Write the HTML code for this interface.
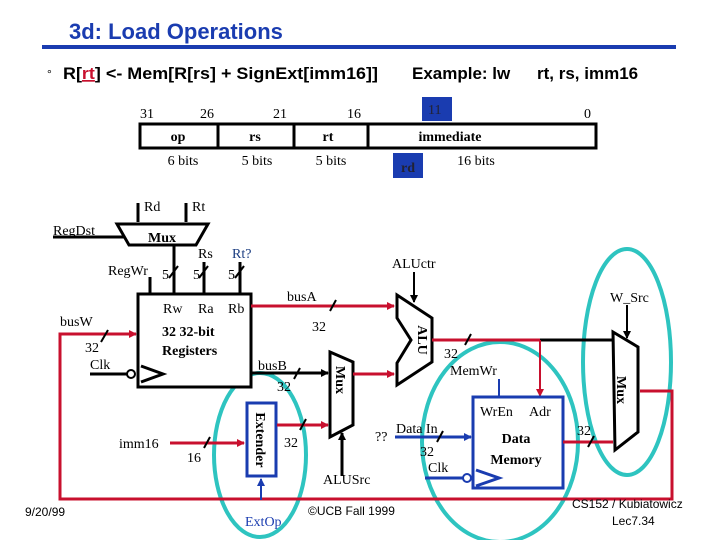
<!DOCTYPE html>
<html><head><meta charset="utf-8"><style>
html,body{margin:0;padding:0;background:#fff;}
svg{display:block;}
.s{font-family:"Liberation Serif",serif;font-size:14px;}
.a{font-family:"Liberation Sans",sans-serif;}
</style></head><body>
<svg width="720" height="540" viewBox="0 0 720 540" xmlns="http://www.w3.org/2000/svg">
<defs>
<marker id="ar" markerWidth="8" markerHeight="8" refX="7" refY="4" orient="auto" markerUnits="userSpaceOnUse"><path d="M0,0 L8,4 L0,8 z" fill="#c8102e"/></marker>
<marker id="ak" markerWidth="8" markerHeight="8" refX="7" refY="4" orient="auto" markerUnits="userSpaceOnUse"><path d="M0,0 L8,4 L0,8 z" fill="#000"/></marker>
<marker id="ab" markerWidth="8" markerHeight="8" refX="7" refY="4" orient="auto" markerUnits="userSpaceOnUse"><path d="M0,0 L8,4 L0,8 z" fill="#1a3cb0"/></marker>
</defs>
<text x="69" y="39" class="a" font-size="22" font-weight="bold" fill="#1a3cb0">3d: Load Operations</text>
<rect x="42" y="45" width="634" height="4" fill="#1a3cb0"/>
<text x="47" y="78" class="a" font-size="12">°</text>
<text x="63" y="79" class="a" font-size="17" font-weight="bold" textLength="315" lengthAdjust="spacingAndGlyphs">R[<tspan fill="#c8102e" text-decoration="underline">rt</tspan>] &lt;- Mem[R[rs] + SignExt[imm16]]</text>
<text x="412" y="79" class="a" font-size="17" font-weight="bold">Example: lw</text>
<text x="537" y="79" class="a" font-size="17" font-weight="bold">rt, rs, imm16</text>
<g class="s">
<text x="140" y="118">31</text><text x="200" y="118">26</text><text x="273" y="118">21</text><text x="347" y="118">16</text><text x="584" y="118">0</text>
<rect x="422" y="97" width="30" height="24" fill="#1a3cb0"/><text x="428" y="114" fill="#223">11</text>
<rect x="140" y="124" width="456" height="24" fill="none" stroke="#000" stroke-width="3"/>
<line x1="218" y1="124" x2="218" y2="148" stroke="#000" stroke-width="3"/>
<line x1="294" y1="124" x2="294" y2="148" stroke="#000" stroke-width="3"/>
<line x1="368" y1="124" x2="368" y2="148" stroke="#000" stroke-width="3"/>
<text x="178" y="141" text-anchor="middle" font-weight="bold">op</text>
<text x="255" y="141" text-anchor="middle" font-weight="bold">rs</text>
<text x="328" y="141" text-anchor="middle" font-weight="bold">rt</text>
<text x="450" y="141" text-anchor="middle" font-weight="bold">immediate</text>
<text x="183" y="165" text-anchor="middle">6 bits</text><text x="257" y="165" text-anchor="middle">5 bits</text><text x="331" y="165" text-anchor="middle">5 bits</text><text x="476" y="165" text-anchor="middle">16 bits</text>
<rect x="393" y="153" width="30" height="25" fill="#1a3cb0"/><text x="408" y="172" text-anchor="middle" font-weight="bold" fill="#223">rd</text>
</g>
<g fill="none" stroke="#2ec4c0" stroke-width="4">
<ellipse cx="500" cy="442" rx="78" ry="100"/>
<ellipse cx="627" cy="362" rx="44" ry="113"/>
<ellipse cx="260" cy="455" rx="46" ry="82"/>
</g>
<polyline points="640,391 672,391 672,499 60,499 60,334 136,334" fill="none" stroke="#c8102e" stroke-width="3" marker-end="url(#ar)"/>
<g class="s">
<text x="144" y="211">Rd</text><text x="192" y="211">Rt</text>
<line x1="138" y1="203" x2="138" y2="222" stroke="#000" stroke-width="3"/>
<line x1="186" y1="203" x2="186" y2="222" stroke="#000" stroke-width="3"/>
<text x="53" y="235">RegDst</text>
<line x1="53" y1="237" x2="125" y2="237" stroke="#000" stroke-width="3"/>
<polygon points="117,224 208,224 196,245 129,245" fill="#fff" stroke="#000" stroke-width="3"/>
<text x="162" y="242" text-anchor="middle" font-weight="bold">Mux</text>
<line x1="174" y1="245" x2="174" y2="294" stroke="#000" stroke-width="3"/>
<text x="198" y="258">Rs</text><text x="232" y="258" fill="#1a3c80">Rt?</text>
<line x1="204" y1="262" x2="204" y2="294" stroke="#000" stroke-width="3"/>
<line x1="240" y1="262" x2="240" y2="294" stroke="#000" stroke-width="3"/>
<text x="108" y="275">RegWr</text>
<line x1="150" y1="277" x2="150" y2="294" stroke="#000" stroke-width="3"/>
<text x="162" y="279">5</text><text x="193" y="279">5</text><text x="228" y="279">5</text>
<g stroke="#000" stroke-width="2"><line x1="169" y1="278" x2="178" y2="266"/><line x1="199" y1="278" x2="208" y2="266"/><line x1="235" y1="278" x2="244" y2="266"/></g>
<rect x="138" y="294" width="113" height="93" fill="#fff" stroke="#000" stroke-width="3"/>
<text x="163" y="313">Rw</text><text x="198" y="313">Ra</text><text x="228" y="313">Rb</text>
<text x="162" y="336" font-weight="bold">32 32-bit</text>
<text x="162" y="355" font-weight="bold">Registers</text>
<polyline points="141,366 163,374 141,382" fill="none" stroke="#000" stroke-width="3"/>
<line x1="90" y1="374" x2="127" y2="374" stroke="#000" stroke-width="3"/>
<circle cx="131" cy="374" r="4" fill="#fff" stroke="#000" stroke-width="2"/>
<text x="90" y="369">Clk</text>
<text x="60" y="326">busW</text>
<text x="85" y="352">32</text>
<line x1="101" y1="342" x2="108" y2="330" stroke="#000" stroke-width="2"/>
<line x1="251" y1="306" x2="394" y2="306" stroke="#c8102e" stroke-width="3" marker-end="url(#ar)"/>
<text x="287" y="301">busA</text><text x="312" y="331">32</text>
<line x1="330" y1="311" x2="336" y2="300" stroke="#000" stroke-width="2"/>
<line x1="251" y1="373" x2="328" y2="373" stroke="#000" stroke-width="3" marker-end="url(#ak)"/>
<text x="258" y="370">busB</text><text x="277" y="391">32</text>
<line x1="294" y1="379" x2="300" y2="368" stroke="#000" stroke-width="2"/>
<polygon points="330,352 353,362 353,425 330,437" fill="#fff" stroke="#000" stroke-width="3"/>
<text transform="translate(336,380) rotate(90)" text-anchor="middle" font-weight="bold">Mux</text>
<line x1="353" y1="374" x2="394" y2="374" stroke="#c8102e" stroke-width="3" marker-end="url(#ar)"/>
<line x1="342" y1="476" x2="342" y2="433" stroke="#000" stroke-width="3" marker-end="url(#ak)"/>
<text x="323" y="484">ALUSrc</text>
<rect x="247" y="403" width="29" height="73" fill="#fff" stroke="#1a3cb0" stroke-width="3"/>
<text transform="translate(256,440) rotate(90)" text-anchor="middle" font-weight="bold">Extender</text>
<line x1="277" y1="425" x2="328" y2="425" stroke="#c8102e" stroke-width="3" marker-end="url(#ar)"/>
<text x="284" y="447">32</text>
<line x1="300" y1="430" x2="306" y2="419" stroke="#000" stroke-width="2"/>
<line x1="170" y1="443" x2="244" y2="443" stroke="#c8102e" stroke-width="3" marker-end="url(#ar)"/>
<text x="119" y="448">imm16</text><text x="187" y="462">16</text>
<line x1="204" y1="448" x2="210" y2="437" stroke="#000" stroke-width="2"/>
<line x1="261" y1="500" x2="261" y2="479" stroke="#1a3cb0" stroke-width="2" marker-end="url(#ab)"/>
<text x="245" y="526" fill="#1a3cb0">ExtOp</text>
<polygon points="397,295 432,318 432,362 397,385 397,363 411,340 397,318" fill="#fff" stroke="#000" stroke-width="3"/>
<text transform="translate(418,340) rotate(90)" text-anchor="middle" font-weight="bold">ALU</text>
<text x="392" y="268">ALUctr</text>
<line x1="414" y1="272" x2="414" y2="302" stroke="#000" stroke-width="2" marker-end="url(#ak)"/>
<line x1="432" y1="340" x2="540" y2="340" stroke="#c8102e" stroke-width="3"/>
<line x1="540" y1="340" x2="613" y2="340" stroke="#000" stroke-width="3"/>
<line x1="465" y1="345" x2="471" y2="334" stroke="#000" stroke-width="2"/>
<text x="444" y="358">32</text>
<line x1="540" y1="340" x2="540" y2="396" stroke="#c8102e" stroke-width="2" marker-end="url(#ar)"/>
<polygon points="613,332 638,347 638,432 615,450" fill="#fff" stroke="#000" stroke-width="3"/>
<text transform="translate(617,390) rotate(90)" text-anchor="middle" font-weight="bold">Mux</text>
<text x="610" y="302">W_Src</text>
<line x1="627" y1="305" x2="627" y2="338" stroke="#000" stroke-width="2" marker-end="url(#ak)"/>
<rect x="473" y="397" width="90" height="91" fill="#fff" stroke="#1a3cb0" stroke-width="3"/>
<text x="450" y="375">MemWr</text>
<line x1="499" y1="379" x2="499" y2="397" stroke="#1a3cb0" stroke-width="2"/>
<text x="480" y="416">WrEn</text><text x="529" y="416">Adr</text>
<text x="516" y="443" text-anchor="middle" font-weight="bold">Data</text>
<text x="516" y="464" text-anchor="middle" font-weight="bold">Memory</text>
<polyline points="476,470 499,478 476,486" fill="none" stroke="#1a3cb0" stroke-width="3"/>
<line x1="425" y1="478" x2="463" y2="478" stroke="#1a3cb0" stroke-width="3"/>
<circle cx="467" cy="478" r="4" fill="#fff" stroke="#1a3cb0" stroke-width="2"/>
<text x="428" y="472">Clk</text>
<line x1="395" y1="437" x2="471" y2="437" stroke="#1a3cb0" stroke-width="3" marker-end="url(#ab)"/>
<text x="375" y="441">??</text><text x="396" y="433">Data In</text><text x="420" y="456">32</text>
<line x1="437" y1="442" x2="443" y2="431" stroke="#000" stroke-width="2"/>
<line x1="563" y1="442" x2="613" y2="442" stroke="#c8102e" stroke-width="3"/>
<text x="577" y="435">32</text>
<line x1="588" y1="447" x2="594" y2="436" stroke="#000" stroke-width="2"/>
</g>
<text x="25" y="516" class="a" font-size="12">9/20/99</text>
<text x="308" y="515" class="a" font-size="12">©UCB Fall 1999</text>
<text x="572" y="508" class="a" font-size="12">CS152 / Kubiatowicz</text>
<text x="612" y="525" class="a" font-size="12">Lec7.34</text>
</svg>
</body></html>
